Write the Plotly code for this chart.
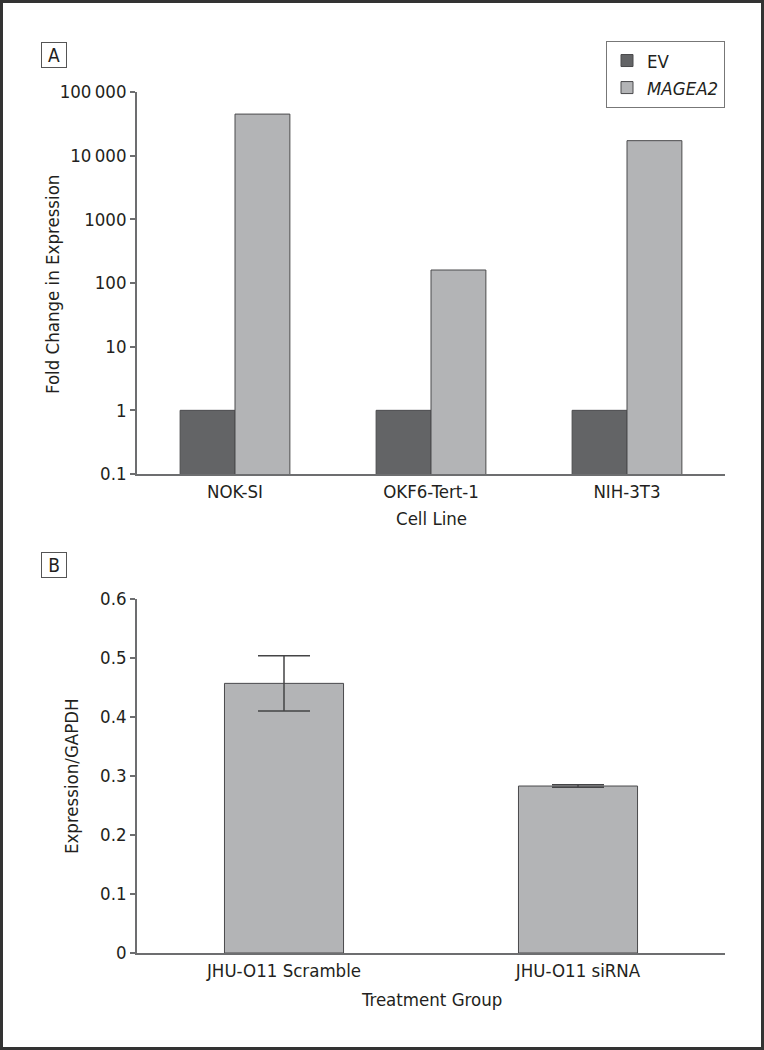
import plotly.graph_objects as go

# ---- data ----
cell_lines = ["NOK-SI", "OKF6-Tert-1", "NIH-3T3"]
ev_values = [1.0, 1.0, 1.0]
magea2_values = [45000, 160, 17200]
a_tickvals = [0.1, 1, 10, 100, 1000, 10000, 100000]
a_ticktext = ["0.1", "1", "10", "100", "1000", "10\u2009000", "100\u2009000"]

groups = ["JHU-O11 Scramble", "JHU-O11 siRNA"]
expr_values = [0.457, 0.283]
expr_errors = [0.047, 0.002]
b_tickvals = [0, 0.1, 0.2, 0.3, 0.4, 0.5, 0.6]
b_ticktext = ["0", "0.1", "0.2", "0.3", "0.4", "0.5", "0.6"]

FONT = "Liberation Sans Narrow, DejaVu Sans Condensed, Arial Narrow, sans-serif"
FS = 18.5
TXT = "#231f20"
AX = "#6d6e70"
EDGE = "#4a4a4c"
DARK = "#636466"
LIGHT = "#b3b4b6"

W, H = 764, 1050
L, R, T, B = 137, 39, 92, 97
PW, PH = W - L - R, H - T - B

def px(x):
    return (x - L) / PW

def py(y):
    return (H - B - y) / PH

fig = go.Figure()
fig.add_trace(go.Bar(x=cell_lines, y=ev_values, name="EV", marker=dict(color=DARK, line=dict(color=EDGE, width=1)),
                     xaxis="x", yaxis="y"))
fig.add_trace(go.Bar(x=cell_lines, y=magea2_values, name="<i>MAGEA2</i>",
                     marker=dict(color=LIGHT, line=dict(color=EDGE, width=1)), xaxis="x", yaxis="y"))
fig.add_trace(go.Bar(x=groups, y=expr_values, width=0.405, showlegend=False,
                     marker=dict(color=LIGHT, line=dict(color=EDGE, width=1)),
                     error_y=dict(type="data", array=expr_errors, color="#444446", thickness=1.5, width=26),
                     xaxis="x2", yaxis="y2"))

axis_common = dict(showline=True, linecolor=AX, linewidth=1.5, showgrid=False, zeroline=False,
                   tickfont=dict(family=FONT, size=FS, color=TXT))

fig.update_layout(
    width=W, height=H,
    margin=dict(l=L, r=R, t=T, b=B),
    paper_bgcolor="white", plot_bgcolor="white",
    barmode="group", bargap=0.44, bargroupgap=0,
    font=dict(family=FONT, color=TXT, size=FS),
    xaxis=dict(domain=[0, 1], anchor="y", ticks="", **axis_common),
    yaxis=dict(domain=[py(474), 1], anchor="x", type="log", range=[-1, 5], tickvals=a_tickvals,
               ticktext=a_ticktext, ticks="outside", ticklen=5, tickcolor=AX, tickwidth=1.5, **axis_common),
    xaxis2=dict(domain=[0, 1], anchor="y2", ticks="", **axis_common),
    yaxis2=dict(domain=[0, py(599)], anchor="x2", range=[0, 0.6], tickvals=b_tickvals, ticktext=b_ticktext,
                ticks="outside", ticklen=5, tickcolor=AX, tickwidth=1.5, **axis_common),
    legend=dict(x=1, xanchor="right", y=py(41), yanchor="top", bordercolor="#777", borderwidth=1,
                bgcolor="white", font=dict(family=FONT, size=FS, color=TXT)),
    showlegend=True,
)

ann = []
ann.append(dict(text="Fold Change in Expression", x=px(52), y=py(285), textangle=-90))
ann.append(dict(text="Cell Line", x=px(431), y=py(518)))
ann.append(dict(text="Expression/GAPDH", x=px(71), y=py(776), textangle=-90))
ann.append(dict(text="Treatment Group", x=px(431), y=py(999)))
for lab, cy in (("A", 54.5), ("B", 565)):
    ann.append(dict(text=lab, x=px(53.5), y=py(cy), width=24, height=24, bordercolor="#555",
                    borderwidth=1, borderpad=0, font=dict(size=19)))
for a in ann:
    a.update(xref="paper", yref="paper", showarrow=False, xanchor="center", yanchor="middle")
    a.setdefault("font", dict(size=FS))
fig.update_layout(annotations=ann)

fig.add_shape(type="rect", xref="paper", yref="paper", x0=px(1.5), x1=px(762.5), y0=py(1048.5), y1=py(1.5),
              line=dict(color="#333333", width=3), layer="above")

fig.write_html("out.html", config={"displayModeBar": False},
               post_script="document.body.style.margin='0';document.body.style.overflow='hidden';")
